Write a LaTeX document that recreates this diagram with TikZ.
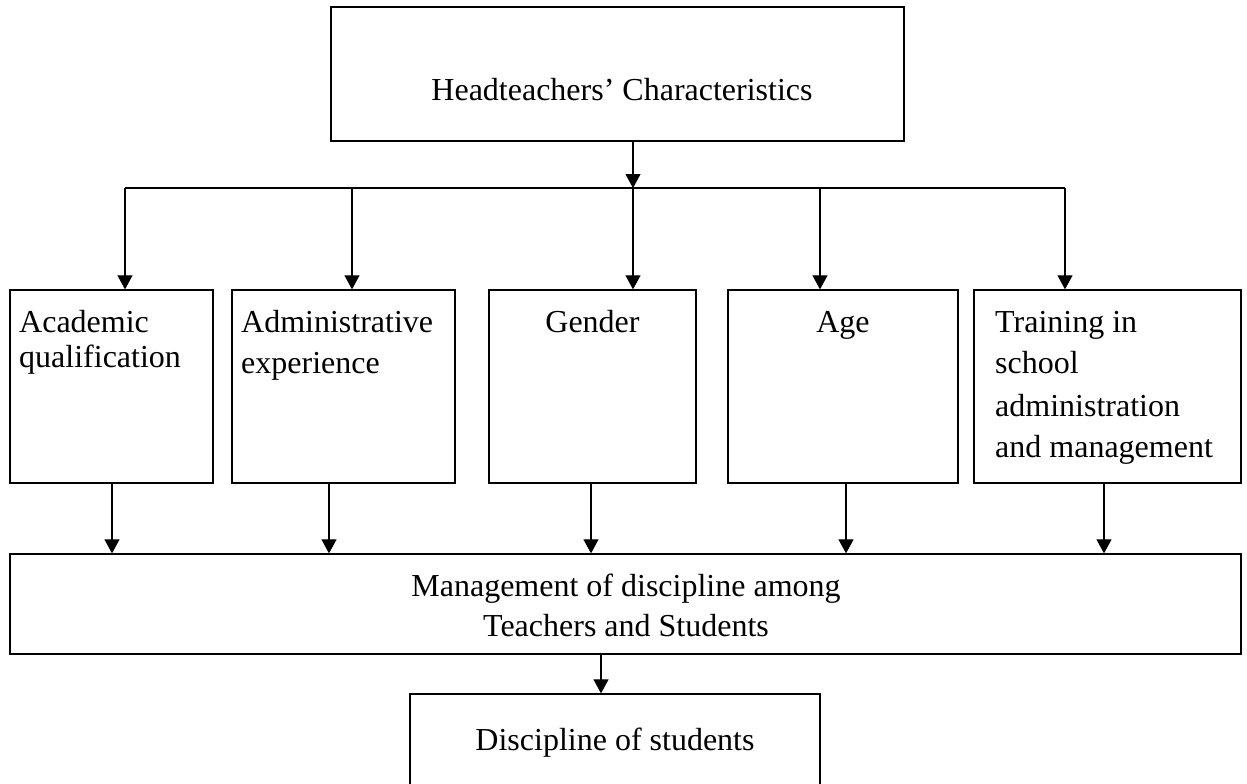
\documentclass[tikz,border=0pt]{standalone}
\usepackage{fontspec}
\setmainfont{Liberation Serif}
\usetikzlibrary{arrows.meta}
\tikzset{
  box/.style={draw, line width=1.3pt, inner sep=0pt, fill=none},
  txt/.style={inner sep=0pt, font=\fontsize{32}{41}\selectfont},
  arr/.style={line width=1.1pt, -{Triangle[width=15pt,length=14pt]}},
  ln/.style={line width=1.1pt}
}
\begin{document}
\begin{tikzpicture}[x=1pt,y=-1pt]
\useasboundingbox (0,0) rectangle (1247,784);
\clip (0,0) rectangle (1247,784);
% boxes
\node[box, minimum width=573pt, minimum height=134pt] (top) at (617.5,74) {};
\node[box, minimum width=203pt, minimum height=193pt] (b1) at (111.5,386.5) {};
\node[box, minimum width=223pt, minimum height=193pt] (b2) at (343.5,386.5) {};
\node[box, minimum width=207pt, minimum height=193pt] (b3) at (592.5,386.5) {};
\node[box, minimum width=230pt, minimum height=193pt] (b4) at (843,386.5) {};
\node[box, minimum width=267pt, minimum height=193pt] (b5) at (1107.5,386.5) {};
\node[box, minimum width=1231pt, minimum height=100pt] (mgmt) at (625.5,604) {};
\node[box, minimum width=410pt, minimum height=106pt] (disc) at (615,747) {};
% texts
\node[txt, anchor=base] (ttop) at (622,100) {Headteachers’ Characteristics};
\node[txt, anchor=base west] (t1a) at (19,332) {Academic};
\node[txt, anchor=base west] (t1b) at (19,367) {qualification};
\node[txt, anchor=base west] (t2a) at (241,332) {Administrative};
\node[txt, anchor=base west] (t2b) at (241,373) {experience};
\node[txt, anchor=base] (t3) at (592.5,332) {Gender};
\node[txt, anchor=base] (t4) at (843,332) {Age};
\node[txt, anchor=base west] (t5a) at (995,332) {Training in};
\node[txt, anchor=base west] (t5b) at (995,373) {school};
\node[txt, anchor=base west] (t5c) at (995,416) {administration};
\node[txt, anchor=base west] (t5d) at (995,457) {and management};
\node[txt, anchor=base] (tma) at (626,596) {Management of discipline among};
\node[txt, anchor=base] (tmb) at (626,636) {Teachers and Students};
\node[txt, anchor=base] (td) at (615,750) {Discipline of students};
% junction coordinates
\coordinate (j1) at (125,188);
\coordinate (j2) at (352,188);
\coordinate (j3) at (633,188);
\coordinate (j4) at (820,188);
\coordinate (j5) at (1065,188);
\coordinate (d1) at (112,520);
\coordinate (d2) at (329,520);
\coordinate (d3) at (591,520);
\coordinate (d4) at (846,520);
\coordinate (d5) at (1104,520);
\coordinate (d6) at (601,674);
% connectors
\draw[arr] (top.south -| j3) -- (j3);
\draw[ln] (j1) -- (j5);
\draw[arr] (j1) -- (b1.north -| j1);
\draw[arr] (j2) -- (b2.north -| j2);
\draw[arr] (j3) -- (b3.north -| j3);
\draw[arr] (j4) -- (b4.north -| j4);
\draw[arr] (j5) -- (b5.north -| j5);
\draw[arr] (b1.south -| d1) -- (mgmt.north -| d1);
\draw[arr] (b2.south -| d2) -- (mgmt.north -| d2);
\draw[arr] (b3.south -| d3) -- (mgmt.north -| d3);
\draw[arr] (b4.south -| d4) -- (mgmt.north -| d4);
\draw[arr] (b5.south -| d5) -- (mgmt.north -| d5);
\draw[arr] (mgmt.south -| d6) -- (disc.north -| d6);
\end{tikzpicture}
\end{document}
